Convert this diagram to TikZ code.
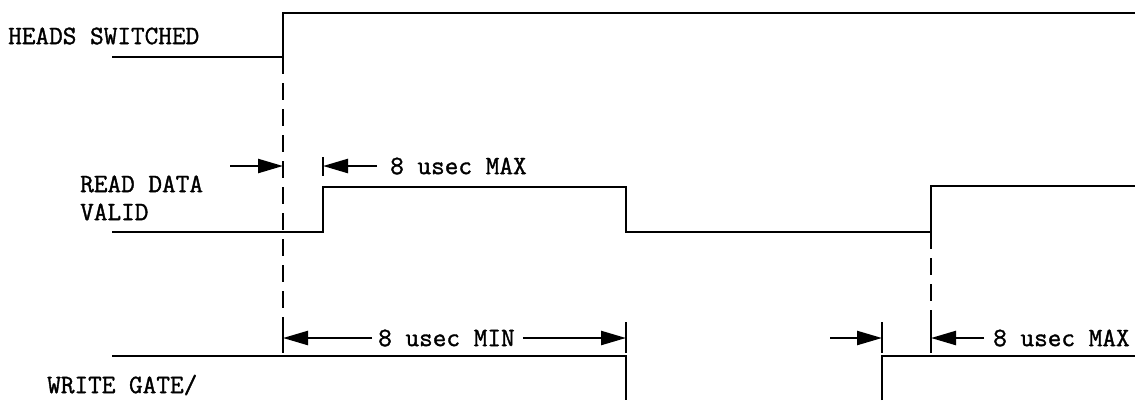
\documentclass[tikz,border=0pt]{standalone}
\usepackage{fontspec}
\usetikzlibrary{arrows.meta}
\newfontfamily\typer{Latin Modern Mono}[FakeBold=1.3]

\tikzset{
  sig/.style={line width=2.8pt, line join=miter},
  guide/.style={line width=2.4pt, dash pattern=on 17pt off 9pt},
  tickline/.style={line width=2.4pt},
  dim/.style={line width=2.4pt, -{Triangle[length=25pt,width=14pt]}},
  lbl/.style={font=\fontsize{26.5}{28}\selectfont\typer, inner sep=0pt, anchor=west},
}

\begin{document}
\begin{tikzpicture}[x=1pt, y=-1pt]
            \useasboundingbox (0,0) rectangle (1143,400);

            % signal names
            \node[lbl] (hs) at (8, 36) {HEADS SWITCHED};
            \node[lbl] (rd) at (80, 184) {READ DATA};
            \node[lbl] (rv) at (80, 212) {VALID};
            \node[lbl] (wg) at (47, 385) {WRITE GATE/};

            % edges of the waveforms
            \coordinate (hsup) at (283, 57);
            \coordinate (rdup) at (323, 232);
            \coordinate (rddn) at (626, 187);
            \coordinate (rdup2) at (931, 232);
            \coordinate (wgdn) at (626, 356);
            \coordinate (wgup) at (882, 400);

            \draw[sig] (112, 57) -- (hsup) |- (1135, 13); % heads switched
            \draw[sig] (112, 232) -- (rdup) |- (rddn) |- (rdup2) |- (1135, 186); % read data valid
            \draw[sig] (112, 356) -- (wgdn) -- (626, 400); % write gate/
            \draw[sig] (wgup) |- (1135, 356);

            % dashed guides
            \coordinate (g1) at (283, 322);
            \coordinate (g2) at (931, 322);
            \draw[guide] (hsup) -- (g1);
            \draw[guide] (rdup2) -- (g2);

            % tick marks
            \draw[tickline] (g1) -- (283, 353);
            \draw[tickline] (g2) -- (931, 353);
            \draw[tickline] (323, 157) -- (323, 176);
            \draw[tickline] (626, 322) -- (626, 353);
            \draw[tickline] (882, 322) -- (882, 353);

            % top interval
            \draw[dim] (230, 166) -- (283, 166);
            \draw[dim] (377, 166) -- (323, 166);
            \node[lbl] (mx1) at (390, 166) {8 usec MAX};

            % 8 usec MIN
            \node[lbl] (mn) at (378, 338) {8 usec MIN};
            \draw[dim] (mn.west) ++(-6, 0) -- (283, 338);
            \draw[dim] (mn.east) ++(8, 0) -- (626, 338);

            % bottom right interval
            \draw[dim] (830, 338) -- (882, 338);
            \draw[dim] (984, 338) -- (931, 338);
            \node[lbl] (mx2) at (993, 338) {8 usec MAX};
        \end{tikzpicture}
\end{document}
